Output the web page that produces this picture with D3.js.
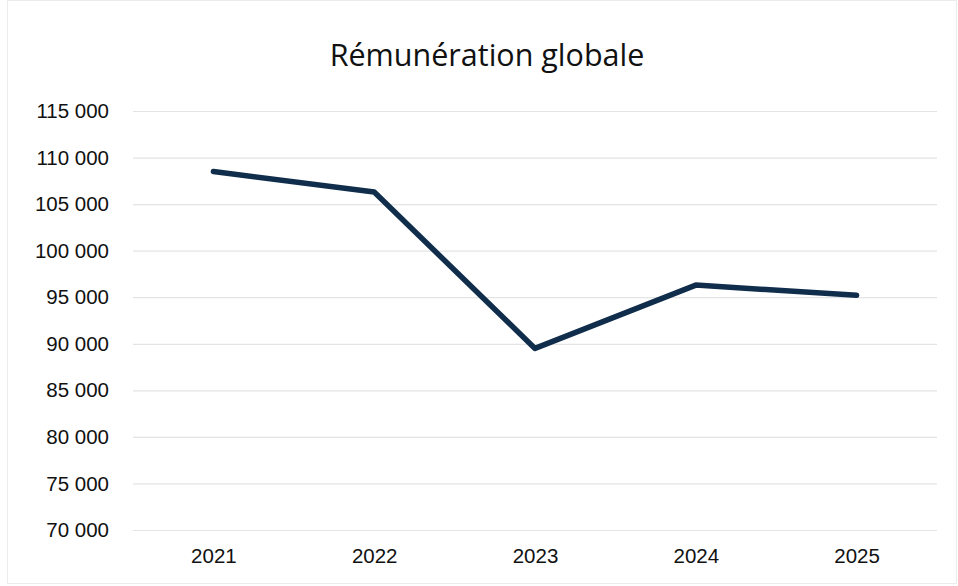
<!DOCTYPE html>
<html><head><meta charset="utf-8">
<script src="https://cdn.jsdelivr.net/npm/d3@7"></script>
<style>body{margin:0;background:#fff}</style>
</head><body>
<svg id="c" width="958" height="586"></svg>
<script>
const years = ["2021","2022","2023","2024","2025"];
const values = [108500, 106300, 89500, 96300, 95200];
const yTicks = [70000,75000,80000,85000,90000,95000,100000,105000,110000,115000];
const title = "Rémunération globale";

const svg = d3.select("#c");
const W = 958, H = 586;
svg.append("rect").attr("x",7.5).attr("y",0.5).attr("width",W-9).attr("height",H-3)
  .attr("fill","#fff").attr("stroke","#ececec");

const x = d3.scalePoint().domain(years).range([133,937]).padding(0.5);
const y = d3.scaleLinear().domain([70000,115000]).range([530,111]);
const fmt = v => d3.format(",")(v).replace(/,/g," ");

const grid = svg.append("g").attr("class","grid")
  .attr("transform","translate(133,0)")
  .call(d3.axisLeft(y).tickValues(yTicks).tickSize(-(937-133)).tickFormat(""));
grid.select(".domain").remove();
grid.selectAll(".tick line").attr("stroke","#e4e4e4").attr("stroke-width",1.2);

const ya = svg.append("g").attr("transform","translate(109,0)")
  .call(d3.axisLeft(y).tickValues(yTicks).tickSize(0).tickPadding(0).tickFormat(fmt));
ya.select(".domain").remove();
ya.selectAll("text").attr("font-family","Liberation Sans, Arial, sans-serif")
  .attr("font-size",20.5).attr("fill","#111");

const xa = svg.append("g").attr("transform","translate(0,548)")
  .call(d3.axisBottom(x).tickSize(0).tickPadding(0));
xa.select(".domain").remove();
xa.selectAll("text").attr("font-family","Liberation Sans, Arial, sans-serif")
  .attr("font-size",20.5).attr("fill","#111").attr("dy","0.71em");

svg.append("path").datum(values.map((v,i)=>[years[i],v]))
  .attr("fill","none").attr("stroke","#102d4c").attr("stroke-width",5.5)
  .attr("stroke-linejoin","round").attr("stroke-linecap","round")
  .attr("d", d3.line().x(d=>x(d[0])).y(d=>y(d[1])));

svg.append("text").attr("x",487).attr("y",66).attr("text-anchor","middle")
  .attr("font-family","Open Sans, sans-serif").attr("font-size",30.5).attr("fill","#111")
  .text(title);
</script>
</body></html>
